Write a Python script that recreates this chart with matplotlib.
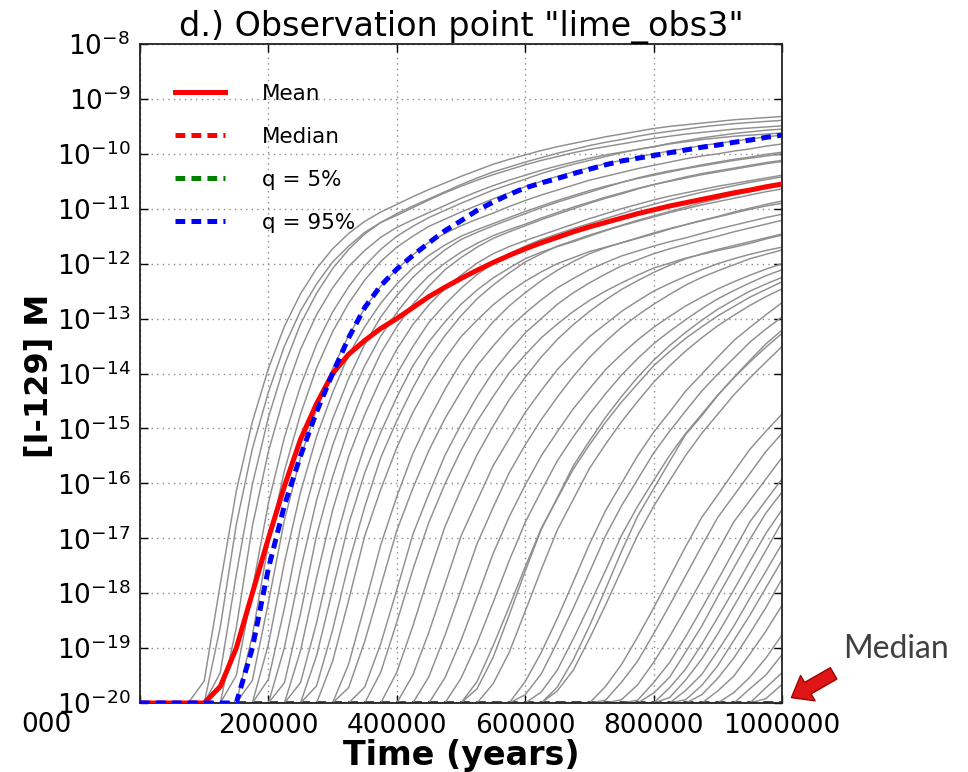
import numpy as np
import matplotlib
matplotlib.use("Agg")
import matplotlib.pyplot as plt
from matplotlib.patches import FancyArrowPatch
from matplotlib.ticker import FixedLocator, NullLocator, LogFormatterMathtext

plt.rcParams['lines.scale_dashes'] = False
plt.rcParams['axes.unicode_minus'] = False

# ---------------- data (log10 of [I-129] in M) ----------------
FLOOR = -20.0

# time grid (k-years) shared by realisations and statistics
years_k = [0, 25, 50, 75, 100, 125, 150, 175, 200, 225, 250, 275, 300, 325,
           350, 375, 400, 425, 450, 475, 500, 525, 550, 575, 600, 625, 650,
           675, 700, 725, 750, 775, 800, 825, 850, 875, 900, 925, 950, 975, 1000]

# each realisation: log10 values, listed from the first
# grid point where it has left the 1e-20 floor, up to 1e6 years
realisations = [
    [-19.6, -17.84, -16.14, -14.88, -13.91, -13.14, -12.55, -12.09, -11.73, -11.45, -11.23, -11.06, -10.92, -10.78, -10.65, -10.53, -10.41, -10.3, -10.19, -10.1, -10.02, -9.94, -9.87, -9.81, -9.75, -9.69, -9.64, -9.59, -9.54, -9.5, -9.47, -9.44, -9.41, -9.38, -9.36, -9.34, -9.32],
    [-18.62, -16.75, -15.37, -14.34, -13.5, -12.86, -12.37, -11.97, -11.68, -11.43, -11.25, -11.12, -10.98, -10.84, -10.71, -10.59, -10.48, -10.38, -10.29, -10.2, -10.12, -10.05, -9.98, -9.92, -9.87, -9.82, -9.77, -9.72, -9.68, -9.64, -9.61, -9.58, -9.55, -9.53, -9.51, -9.49],
    [-19.45, -17.66, -16.02, -14.8, -13.85, -13.1, -12.54, -12.09, -11.74, -11.46, -11.25, -11.09, -10.95, -10.82, -10.69, -10.56, -10.44, -10.33, -10.24, -10.15, -10.07, -9.99, -9.92, -9.85, -9.79, -9.74, -9.68, -9.63, -9.59, -9.55, -9.51, -9.48, -9.45, -9.43, -9.41, -9.39],
    [-18.63, -16.78, -15.42, -14.39, -13.56, -12.93, -12.44, -12.05, -11.76, -11.52, -11.34, -11.2, -11.07, -10.94, -10.81, -10.69, -10.58, -10.48, -10.39, -10.3, -10.22, -10.15, -10.08, -10.02, -9.97, -9.92, -9.87, -9.82, -9.78, -9.74, -9.71, -9.68, -9.66, -9.64, -9.62],
    [-19.5, -17.93, -16.36, -15.16, -14.23, -13.47, -12.88, -12.42, -12.04, -11.74, -11.5, -11.32, -11.16, -11.03, -10.9, -10.78, -10.66, -10.56, -10.46, -10.36, -10.27, -10.19, -10.12, -10.05, -9.98, -9.92, -9.87, -9.81, -9.76, -9.71, -9.67, -9.63, -9.6, -9.57, -9.55],
    [-18.77, -17.1, -15.77, -14.74, -13.9, -13.24, -12.72, -12.3, -11.96, -11.7, -11.5, -11.32, -11.19, -11.06, -10.94, -10.82, -10.71, -10.6, -10.5, -10.41, -10.33, -10.25, -10.18, -10.12, -10.06, -10.0, -9.95, -9.9, -9.85, -9.81, -9.77, -9.73, -9.69, -9.66],
    [-19.59, -18.17, -16.67, -15.53, -14.65, -13.91, -13.31, -12.81, -12.41, -12.1, -11.84, -11.61, -11.45, -11.31, -11.19, -11.08, -10.96, -10.85, -10.75, -10.66, -10.57, -10.48, -10.41, -10.34, -10.27, -10.21, -10.15, -10.09, -10.04, -10.0, -9.95, -9.91, -9.86, -9.82],
    [-18.93, -17.44, -16.16, -15.15, -14.35, -13.66, -13.15, -12.72, -12.37, -12.08, -11.85, -11.66, -11.5, -11.38, -11.27, -11.16, -11.05, -10.95, -10.85, -10.76, -10.67, -10.59, -10.52, -10.45, -10.39, -10.33, -10.27, -10.22, -10.17, -10.12, -10.08, -10.04, -10.0],
    [-19.57, -18.27, -16.8, -15.71, -14.83, -14.09, -13.47, -12.97, -12.58, -12.25, -11.98, -11.75, -11.56, -11.43, -11.31, -11.2, -11.09, -10.98, -10.88, -10.79, -10.7, -10.61, -10.52, -10.44, -10.37, -10.31, -10.26, -10.2, -10.15, -10.1, -10.06, -10.01, -9.97],
    [-18.99, -17.57, -16.31, -15.31, -14.51, -13.86, -13.32, -12.89, -12.52, -12.22, -11.99, -11.79, -11.63, -11.49, -11.38, -11.28, -11.17, -11.07, -10.97, -10.88, -10.79, -10.71, -10.63, -10.56, -10.5, -10.44, -10.38, -10.33, -10.28, -10.23, -10.18, -10.14],
    [-19.63, -18.37, -16.95, -15.88, -15.0, -14.26, -13.63, -13.15, -12.74, -12.41, -12.11, -11.89, -11.7, -11.54, -11.42, -11.31, -11.2, -11.1, -11.0, -10.9, -10.81, -10.73, -10.64, -10.56, -10.49, -10.42, -10.36, -10.31, -10.26, -10.21, -10.16, -10.12],
    [-19.05, -17.72, -16.49, -15.51, -14.75, -14.1, -13.56, -13.11, -12.75, -12.45, -12.21, -11.99, -11.82, -11.69, -11.58, -11.48, -11.38, -11.28, -11.18, -11.09, -11.0, -10.92, -10.84, -10.77, -10.71, -10.65, -10.59, -10.54, -10.49, -10.44, -10.39],
    [-19.63, -18.54, -17.25, -16.2, -15.32, -14.6, -14.01, -13.51, -13.07, -12.74, -12.45, -12.2, -11.99, -11.82, -11.68, -11.56, -11.46, -11.36, -11.27, -11.18, -11.09, -11.0, -10.92, -10.84, -10.77, -10.7, -10.64, -10.58, -10.52, -10.47, -10.42],
    [-19.14, -17.94, -16.74, -15.81, -15.07, -14.43, -13.86, -13.42, -13.06, -12.74, -12.48, -12.26, -12.08, -11.91, -11.79, -11.69, -11.6, -11.5, -11.4, -11.31, -11.23, -11.15, -11.07, -11.0, -10.93, -10.87, -10.81, -10.75, -10.69, -10.64],
    [-19.69, -18.67, -17.46, -16.43, -15.53, -14.86, -14.26, -13.73, -13.31, -12.95, -12.64, -12.39, -12.17, -11.97, -11.82, -11.68, -11.58, -11.48, -11.39, -11.3, -11.21, -11.13, -11.05, -10.97, -10.89, -10.82, -10.75, -10.69, -10.63, -10.58],
    [-19.24, -18.13, -16.96, -16.11, -15.35, -14.71, -14.19, -13.73, -13.33, -13.03, -12.75, -12.52, -12.32, -12.15, -12.0, -11.89, -11.78, -11.7, -11.62, -11.53, -11.44, -11.36, -11.29, -11.22, -11.15, -11.08, -11.01, -10.95, -10.9],
    [-19.29, -18.23, -17.12, -16.24, -15.46, -14.84, -14.29, -13.8, -13.41, -13.06, -12.77, -12.53, -12.31, -12.12, -11.96, -11.82, -11.71, -11.62, -11.54, -11.46, -11.37, -11.29, -11.21, -11.14, -11.06, -10.99, -10.92, -10.86],
    [-19.72, -18.88, -17.87, -16.86, -16.09, -15.4, -14.82, -14.33, -13.86, -13.5, -13.17, -12.9, -12.66, -12.44, -12.27, -12.11, -11.98, -11.86, -11.77, -11.68, -11.6, -11.53, -11.45, -11.37, -11.3, -11.23, -11.16, -11.1],
    [-19.71, -18.92, -17.94, -16.93, -16.19, -15.49, -14.93, -14.42, -13.97, -13.6, -13.26, -13.0, -12.74, -12.53, -12.35, -12.19, -12.04, -11.93, -11.82, -11.73, -11.65, -11.57, -11.5, -11.42, -11.35, -11.28, -11.21],
    [-19.44, -18.53, -17.57, -16.71, -16.01, -15.4, -14.87, -14.42, -13.99, -13.66, -13.35, -13.1, -12.87, -12.67, -12.5, -12.35, -12.21, -12.08, -11.99, -11.9, -11.83, -11.76, -11.7, -11.63, -11.55, -11.48],
    [-19.44, -18.6, -17.67, -16.79, -16.11, -15.48, -14.96, -14.48, -14.07, -13.7, -13.38, -13.11, -12.87, -12.66, -12.47, -12.31, -12.16, -12.03, -11.91, -11.82, -11.74, -11.67, -11.6, -11.53, -11.46],
    [-19.49, -18.71, -17.84, -16.96, -16.32, -15.68, -15.19, -14.71, -14.31, -13.93, -13.62, -13.33, -13.1, -12.87, -12.68, -12.5, -12.36, -12.23, -12.11, -12.0, -11.91, -11.83, -11.76, -11.7],
    [-19.52, -18.77, -17.94, -17.1, -16.44, -15.81, -15.3, -14.84, -14.43, -14.05, -13.71, -13.42, -13.16, -12.94, -12.74, -12.56, -12.39, -12.25, -12.13, -12.02, -11.91, -11.83, -11.75],
    [-19.54, -18.86, -18.08, -17.28, -16.61, -16.03, -15.5, -15.06, -14.64, -14.28, -13.93, -13.65, -13.39, -13.16, -12.96, -12.77, -12.61, -12.46, -12.33, -12.21, -12.1, -12.0],
    [-19.55, -18.91, -18.17, -17.41, -16.71, -16.14, -15.59, -15.15, -14.74, -14.37, -14.03, -13.73, -13.46, -13.23, -13.02, -12.82, -12.64, -12.49, -12.35, -12.22, -12.11],
    [-19.61, -18.96, -18.25, -17.52, -16.82, -16.28, -15.74, -15.3, -14.89, -14.52, -14.19, -13.86, -13.6, -13.36, -13.15, -12.95, -12.78, -12.61, -12.47, -12.33],
    [-19.74, -19.17, -18.4, -17.6, -16.84, -16.26, -15.68, -15.23, -14.8, -14.42, -14.07, -13.76, -13.49, -13.25, -13.03, -12.83, -12.66, -12.5, -12.37, -12.25],
    [-19.65, -19.08, -18.33, -17.57, -16.85, -16.29, -15.73, -15.29, -14.88, -14.51, -14.16, -13.86, -13.59, -13.35, -13.13, -12.94, -12.76, -12.6, -12.46],
    [-19.61, -19.08, -18.46, -17.79, -17.11, -16.5, -16.0, -15.5, -15.07, -14.7, -14.32, -14.01, -13.7, -13.4, -13.16, -12.93, -12.71],
    [-19.85, -19.47, -18.89, -18.27, -17.62, -16.96, -16.41, -15.93, -15.45, -15.05, -14.68, -14.32, -14.01, -13.72, -13.43, -13.19, -12.97],
    [-19.8, -19.4, -18.83, -18.22, -17.59, -16.95, -16.42, -15.95, -15.49, -15.09, -14.74, -14.39, -14.08, -13.79, -13.52, -13.27],
    [-19.71, -19.21, -18.6, -17.93, -17.24, -16.6, -16.1, -15.6, -15.11, -14.77, -14.4, -14.07, -13.76, -13.46, -13.21],
    [-19.78, -19.4, -18.83, -18.22, -17.58, -16.95, -16.42, -15.95, -15.49, -15.09, -14.74, -14.39, -14.08, -13.79, -13.51],
    [-19.7, -19.3, -18.8, -18.27, -17.71, -17.15, -16.62, -16.21, -15.79, -15.38, -15.05, -14.74],
    [-19.95, -19.62, -19.24, -18.74, -18.22, -17.68, -17.14, -16.62, -16.22, -15.82, -15.42, -15.09],
    [-19.94, -19.67, -19.26, -18.79, -18.28, -17.76, -17.23, -16.7, -16.31, -15.92, -15.53],
    [-19.95, -19.63, -19.26, -18.79, -18.28, -17.76, -17.23, -16.7, -16.31, -15.92],
    [-19.82, -19.53, -19.07, -18.6, -18.06, -17.54, -17.02, -16.54, -16.16],
    [-19.72, -19.38, -18.93, -18.44, -17.94, -17.42, -16.91, -16.48],
    [-19.9, -19.58, -19.2, -18.74, -18.24, -17.73, -17.22, -16.7],
    [-19.77, -19.48, -19.05, -18.6, -18.09, -17.6, -17.1],
    [-19.94, -19.68, -19.32, -18.86, -18.4, -17.9, -17.4],
    [-19.85, -19.55, -19.18, -18.73, -18.26, -17.74],
    [-19.78, -19.51, -19.11, -18.69, -18.22],
    [-19.81, -19.53, -19.18, -18.76],
    [-19.74, -19.49, -19.12],
    [-19.72, -19.45],
    [-19.92, -19.66],
]

mean_log = [-20.0, -20.0, -20.0, -20.0, -20.0, -19.7, -19.0, -18.0, -17.0, -16.05,
            -15.2, -14.55, -14.0, -13.65, -13.4, -13.18, -13.0, -12.8, -12.6, -12.43,
            -12.27, -12.12, -11.98, -11.85, -11.73, -11.62, -11.52, -11.42, -11.33,
            -11.25, -11.17, -11.09, -11.02, -10.95, -10.89, -10.83, -10.77, -10.71,
            -10.66, -10.6, -10.55]
q95_log = [-20.0, -20.0, -20.0, -20.0, -20.0, -20.0, -20.0, -19.0, -17.55, -16.4,
           -15.5, -14.7, -14.0, -13.35, -12.8, -12.4, -12.1, -11.85, -11.62, -11.4,
           -11.22, -11.03, -10.88, -10.74, -10.62, -10.53, -10.45, -10.36, -10.28,
           -10.2, -10.13, -10.08, -10.03, -9.98, -9.93, -9.88, -9.84, -9.79, -9.75,
           -9.7, -9.66]
median_years_k = [0, 1000]
median_log = [-20.0, -20.0]
q05_log = [-20.0, -20.0]

legend_labels = ["Mean", "Median", "q = 5%", "q = 95%"]
xtick_values = [0, 200000, 400000, 600000, 800000, 1000000]
xtick_labels = ["", "200000", "400000", "600000", "800000", "1000000"]
ytick_exponents = list(range(-20, -7))

# ---------------- figure ----------------
W, H = 968, 772
fig = plt.figure(figsize=(W / 100, H / 100), dpi=100)
ax = fig.add_axes([140 / W, 1 - 703 / H, 642 / W, 659 / H])

yrs = np.array(years_k) * 1000.0
n = len(years_k)
for r in realisations:
    vals = [FLOOR] * (n - len(r)) + list(r)
    ax.plot(yrs, 10.0 ** np.array(vals), color='0.56', lw=1.05, zorder=2)

myrs = np.array(median_years_k) * 1000.0
h_med, = ax.plot(myrs, 10.0 ** np.array(median_log), color='red', lw=3.6,
                 dashes=(7, 4.5), zorder=1.5)
h_q05, = ax.plot(myrs, 10.0 ** np.array(q05_log), color='green', lw=3.6,
                 dashes=(7, 4.5), zorder=1.6)
h_mean, = ax.plot(yrs, 10.0 ** np.array(mean_log), color='red', lw=3.6, zorder=4)
h_q95, = ax.plot(yrs, 10.0 ** np.array(q95_log), color='blue', lw=3.6,
                 dashes=(7, 4.5), zorder=5)

ax.set_yscale('log')
ax.set_xlim(0, 1000000)
ax.set_ylim(1e-20, 1e-8)
ax.yaxis.set_major_locator(FixedLocator([10.0 ** e for e in ytick_exponents]))
ax.yaxis.set_major_formatter(LogFormatterMathtext())
ax.yaxis.set_minor_locator(NullLocator())
ax.set_xticks(xtick_values)
ax.set_xticklabels(xtick_labels)
ax.tick_params(axis='both', which='major', direction='in', length=6, width=1,
               top=True, right=True, labelsize=19, pad=7)
ax.grid(True, which='major', linestyle=(0, (1, 3)), color='0.55', lw=1.0)
for s in ax.spines.values():
    s.set_linewidth(1.3)
    s.set_color('#222222')

ax.set_title('d.) Observation point "lime_obs3"', fontsize=24, pad=6)
ax.set_xlabel('Time (years)', fontsize=24, fontweight='bold', labelpad=0)
ax.set_ylabel('[I-129] M', fontsize=23, fontweight='bold')
ax.yaxis.set_label_coords(-0.133, 0.497)

leg = ax.legend([h_mean, h_med, h_q05, h_q95], legend_labels, loc='upper left',
                bbox_to_anchor=(0.055, 0.94), frameon=False, fontsize=15.5,
                handlelength=2.3, handletextpad=1.73, labelspacing=1.07,
                borderaxespad=0, borderpad=0)

# remnant of neighbouring panel's tick label
fig.text(46 / W, 1 - 712 / H, '000', fontsize=19, ha='center', va='top')

# annotation
fig.text(843 / W, 1 - 658 / H, 'Median', fontsize=23, family='Lato',
         color='#404040', ha='left', va='baseline')
arrow = FancyArrowPatch((836 / W, 1 - 672 / H), (789 / W, 1 - 699 / H),
                        transform=fig.transFigure,
                        arrowstyle='simple,head_length=0.65,head_width=1.0,tail_width=0.45',
                        mutation_scale=21, facecolor='#e01515', edgecolor='#a00000',
                        lw=1)
fig.add_artist(arrow)

fig.savefig('out.png', dpi=100)
